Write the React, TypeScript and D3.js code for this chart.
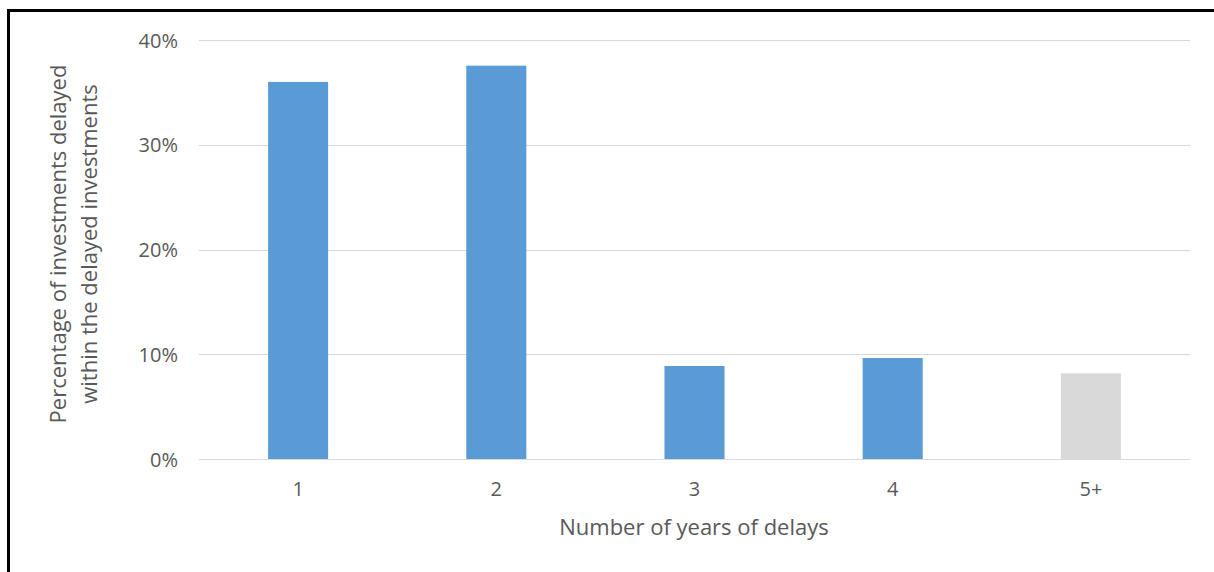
import React from "react";
import * as d3 from "d3";

const categories = ["1", "2", "3", "4", "5+"];
const values = [0.36, 0.3755, 0.0888, 0.0964, 0.0818];
const barColors = ["#5b9bd5", "#5b9bd5", "#5b9bd5", "#5b9bd5", "#d9d9d9"];
const yTicks = [0, 0.1, 0.2, 0.3, 0.4];
const xTitle = "Number of years of delays";
const yTitleLines = ["Percentage of investments delayed", "within the delayed investments"];

const W = 1214;
const H = 572;
const left = 199;
const right = 1190;
const top = 40;
const bottom = 459;
const FONT = "'Open Sans', 'Noto Sans', sans-serif";
const TEXT = "#595959";

export default function App() {
  const x = d3
    .scaleBand<string>()
    .domain(categories)
    .range([left, right])
    .paddingInner(0.697)
    .paddingOuter(0.3485);
  const y = d3.scaleLinear().domain([0, 0.4]).range([bottom, top]);
  const fmt = d3.format(".0%");

  return (
    <svg
      width={W}
      height={H}
      style={{ position: "absolute", left: 0, top: 0, background: "#fff" }}
      fontFamily={FONT}
    >
      <rect x={0} y={0} width={W} height={H} fill="#fff" />
      <rect x={8.5} y={10.5} width={1400} height={800} fill="none" stroke="#000" strokeWidth={3} />
      {yTicks.map((t) => (
        <g key={t}>
          <line x1={left} x2={right} y1={Math.round(y(t)) + 0.5} y2={Math.round(y(t)) + 0.5} stroke="#d9d9d9" strokeWidth={1} />
          <text x={178} y={y(t) + 7.5} textAnchor="end" fontSize={20} fill={TEXT}>
            {fmt(t)}
          </text>
        </g>
      ))}
      {categories.map((c, i) => (
        <g key={c}>
          <rect
            x={x(c)}
            y={y(values[i])}
            width={x.bandwidth()}
            height={y(0) - y(values[i])}
            fill={barColors[i]}
          />
          <text x={(x(c) as number) + x.bandwidth() / 2} y={496} textAnchor="middle" fontSize={20} fill={TEXT}>
            {c}
          </text>
        </g>
      ))}
      <text x={694} y={535} textAnchor="middle" fontSize={22} fill={TEXT}>
        {xTitle}
      </text>
      {yTitleLines.map((line, i) => (
        <text
          key={i}
          transform={`translate(${66 + i * 31}, 244) rotate(-90)`}
          textAnchor="middle"
          fontSize={22}
          fill={TEXT}
        >
          {line}
        </text>
      ))}
    </svg>
  );
}
